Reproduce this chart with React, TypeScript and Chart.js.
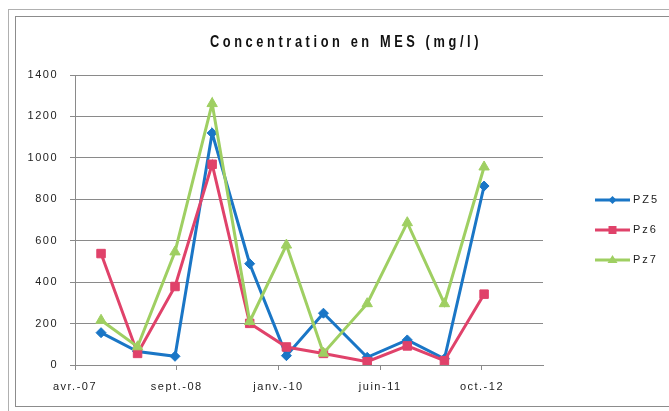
import React, { useEffect, useRef } from "react";
import { Chart, registerables } from "chart.js";

Chart.register(...registerables);

const chartTitle = "Concentration en MES (mg/l)";
const tickLabels = ["avr.-07", "sept.-08", "janv.-10", "juin-11", "oct.-12"];
// sample positions along the date axis, in units of the major tick interval
const samplePos = [0.256, 0.615, 0.983, 1.348, 1.717, 2.078, 2.442, 2.872, 3.266, 3.631, 4.021];
const seriesNames = ["PZ5", "Pz6", "Pz7"];
const pz5 = [156, 65, 42, 1120, 489, 45, 250, 37, 121, 30, 864];
const pz6 = [538, 56, 379, 969, 201, 87, 56, 16, 92, 21, 342];
const pz7 = [216, 88, 546, 1262, 210, 579, 57, 296, 687, 296, 956];
const yTicks = [0, 200, 400, 600, 800, 1000, 1200, 1400];

const colors = ["#1a76c6", "#e0426a", "#9fcf62"];
const pointStyles = ["rectRot", "rect", "triangle"];
const pointRadii = [5, 6, 6];

const FONT = "'Liberation Sans Narrow', 'Liberation Sans', Arial, sans-serif";
const SPACING = "1.5px";

function drawMarker(ctx: CanvasRenderingContext2D, style: string, x: number, y: number, r: number, color: string) {
  ctx.save();
  ctx.fillStyle = color;
  ctx.beginPath();
  if (style === "rectRot") {
    ctx.moveTo(x, y - r);
    ctx.lineTo(x + r, y);
    ctx.lineTo(x, y + r);
    ctx.lineTo(x - r, y);
  } else if (style === "rect") {
    ctx.rect(x - r * 0.8, y - r * 0.8, r * 1.6, r * 1.6);
  } else {
    ctx.moveTo(x, y - r);
    ctx.lineTo(x + r, y + r * 0.6);
    ctx.lineTo(x - r, y + r * 0.6);
  }
  ctx.closePath();
  ctx.fill();
  ctx.restore();
}

const spacingPlugin = {
  id: "spacing",
  beforeUpdate(chart: any) {
    (chart.ctx as any).letterSpacing = SPACING;
  },
  beforeLayout(chart: any) {
    (chart.ctx as any).letterSpacing = SPACING;
  },
  beforeDraw(chart: any) {
    (chart.ctx as any).letterSpacing = SPACING;
  },
};

const legendPlugin = {
  id: "sideLegend",
  afterDraw(chart: any) {
    const ctx: CanvasRenderingContext2D = chart.ctx;
    const area = chart.chartArea;
    const x0 = area.right + 52;
    const cy = (area.top + area.bottom) / 2 + 10;
    ctx.save();
    (ctx as any).letterSpacing = "2px";
    chart.data.datasets.forEach((ds: any, i: number) => {
      const y = cy + (i - 1) * 30;
      ctx.strokeStyle = colors[i];
      ctx.lineWidth = 3;
      ctx.beginPath();
      ctx.moveTo(x0, y);
      ctx.lineTo(x0 + 35, y);
      ctx.stroke();
      drawMarker(ctx, pointStyles[i], x0 + 17.5, y, pointRadii[i] - 1, colors[i]);
      ctx.fillStyle = "#222";
      ctx.font = `11px ${FONT}`;
      ctx.textBaseline = "middle";
      ctx.textAlign = "left";
      ctx.fillText(ds.label, x0 + 38, y);
    });
    ctx.restore();
  },
};

export default function App() {
  const ref = useRef<HTMLCanvasElement | null>(null);

  useEffect(() => {
    if (!ref.current) return;
    const series = [pz5, pz6, pz7];
    const chart = new Chart(ref.current, {
      type: "line",
      data: {
        datasets: series.map((vals, i) => ({
          label: seriesNames[i],
          data: vals.map((v, j) => ({ x: samplePos[j], y: v })),
          borderColor: colors[i],
          backgroundColor: colors[i],
          borderWidth: 3,
          pointStyle: pointStyles[i] as any,
          pointRadius: pointRadii[i],
          pointBorderWidth: 1,
          tension: 0,
          order: 3 - i,
        })),
      },
      options: {
        animation: false,
        responsive: false,
        events: [],
        layout: { padding: { left: 0, right: 126, top: 75, bottom: 10 } },
        plugins: {
          legend: { display: false },
          title: { display: false },
          tooltip: { enabled: false },
        },
        scales: {
          x: {
            type: "linear",
            min: 0,
            max: 4.6,
            afterFit: (s: any) => {
              s.height = 36;
            },
            border: { display: true, color: "#8a8a8a", width: 1 },
            grid: { drawOnChartArea: false, drawTicks: true, tickLength: 5, color: "#8a8a8a" },
            ticks: {
              stepSize: 1,
              includeBounds: false,
              autoSkip: false,
              maxRotation: 0,
              padding: 10,
              color: "#222",
              font: { family: FONT, size: 11 },
              callback: (v: any) => tickLabels[Math.round(Number(v))] ?? "",
            },
          },
          y: {
            min: 0,
            max: 1400,
            afterFit: (s: any) => {
              s.width = 75;
            },
            afterBuildTicks: (s: any) => {
              s.ticks = yTicks.map((v) => ({ value: v }));
            },
            border: { display: true, color: "#8a8a8a", width: 1 },
            grid: { color: "#8a8a8a", lineWidth: 1, tickLength: 5 },
            ticks: {
              padding: 12,
              color: "#222",
              font: { family: FONT, size: 11 },
              callback: (v: any) => String(v),
            },
          },
        },
      },
      plugins: [spacingPlugin, legendPlugin],
    });
    return () => chart.destroy();
  }, []);

  return (
    <div style={{ position: "fixed", inset: 0, overflow: "hidden", background: "#fff" }}>
      <div
        style={{
          position: "absolute",
          left: 8,
          top: 9,
          width: 700,
          height: 420,
          border: "1px solid #b0b0b0",
        }}
      />
      <div
        style={{
          position: "absolute",
          left: 15,
          top: 16,
          width: 700,
          height: 389,
          border: "1px solid #8c8c8c",
        }}
      />
      <canvas ref={ref} width={669} height={411} style={{ position: "absolute", left: 0, top: 0 }} />
      <div
        style={{
          position: "absolute",
          left: 0,
          width: 692,
          top: 32,
          textAlign: "center",
          fontFamily: FONT,
          fontWeight: "bold",
          fontSize: 16,
          lineHeight: "20px",
          letterSpacing: "4.5px",
          color: "#111",
          transform: "scaleX(0.8)",
          transformOrigin: "346px 50%",
        }}
      >
        {chartTitle}
      </div>
    </div>
  );
}
